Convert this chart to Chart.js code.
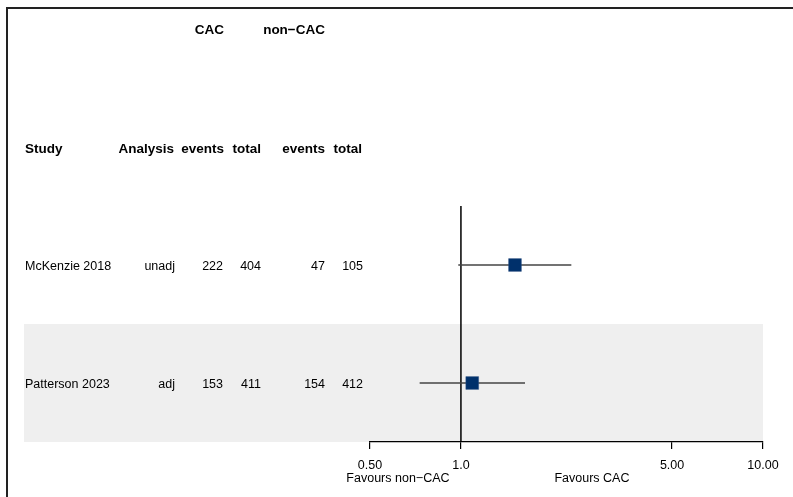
<!DOCTYPE html>
<html lang="en">
<head>
<meta charset="UTF-8">
<title>Forest plot</title>
<script src="https://cdn.jsdelivr.net/npm/chart.js"></script>
<style>
  body { margin: 0; background: #fff; }
  .box { position: relative; width: 793px; height: 497px; }
</style>
</head>
<body>
<div class="box"><canvas id="forest"></canvas></div>
<script>
    const studies = ['McKenzie 2018', 'Patterson 2023'];
    const analysis = ['unadj', 'adj'];
    const cacEvents = [222, 153];
    const cacTotal = [404, 411];
    const nonEvents = [47, 154];
    const nonTotal = [105, 412];
    const ratio = [1.51, 1.09];
    const lower = [0.98, 0.73];
    const upper = [2.32, 1.63];
    const tickVals = [0.5, 1, 5, 10];
    const tickLabels = ['0.50', '1.0', '5.00', '10.00'];

    const FONT = '"Liberation Sans", Arial, Helvetica, sans-serif';

    // row i sits at y = i + 0.5 on a 0..n reversed scale
    const rowY = studies.map((s, i) => i + 0.5);

    const ciSets = studies.map((s, i) => ({
        type: 'line',
        data: [{ x: lower[i], y: rowY[i] }, { x: upper[i], y: rowY[i] }],
        borderColor: '#444',
        borderWidth: 1.5,
        pointRadius: 0,
        order: 3
    }));

    const tablePlugin = {
        id: 'table',
        beforeDraw(chart) {
            const ctx = chart.ctx;
            const y = chart.scales.y;
            const area = chart.chartArea;
            ctx.save();
            ctx.fillStyle = '#efefef';
            // shade every second row
            studies.forEach((s, i) => {
                if (i % 2 === 1) {
                    const top = y.getPixelForValue(i);
                    const bot = y.getPixelForValue(i + 1);
                    ctx.fillRect(24, top, area.right - 24, bot - top);
                }
            });
            ctx.restore();
        },
        afterDraw(chart) {
            const ctx = chart.ctx;
            const y = chart.scales.y;
            const x = chart.scales.x;
            ctx.save();
            ctx.fillStyle = '#000';
            ctx.textBaseline = 'middle';

            ctx.font = 'bold 13.5px ' + FONT;
            ctx.textAlign = 'right';
            ctx.fillText('CAC', 224, 30);
            ctx.fillText('non\u2212CAC', 325, 30);
            ctx.textAlign = 'left';
            ctx.fillText('Study', 25, 149);
            ctx.textAlign = 'right';
            ctx.fillText('Analysis', 174, 149);
            ctx.fillText('events', 224, 149);
            ctx.fillText('total', 261, 149);
            ctx.fillText('events', 325, 149);
            ctx.fillText('total', 362, 149);

            ctx.font = '12.5px ' + FONT;
            studies.forEach((s, i) => {
                const py = y.getPixelForValue(rowY[i]) + 1.5;
                ctx.textAlign = 'left';
                ctx.fillText(s, 25, py);
                ctx.textAlign = 'right';
                ctx.fillText(analysis[i], 175, py);
                ctx.fillText(String(cacEvents[i]), 223, py);
                ctx.fillText(String(cacTotal[i]), 261, py);
                ctx.fillText(String(nonEvents[i]), 325, py);
                ctx.fillText(String(nonTotal[i]), 363, py);
            });

            // favours labels under the axis
            const one = x.getPixelForValue(1);
            ctx.textAlign = 'center';
            ctx.fillText('Favours non\u2212CAC', one - 63, 479);
            ctx.fillText('Favours CAC', one + 131, 479);

            // frame (top and left edge only)
            ctx.strokeStyle = '#222';
            ctx.lineWidth = 2;
            ctx.beginPath();
            ctx.moveTo(7, 497);
            ctx.lineTo(7, 8);
            ctx.lineTo(793, 8);
            ctx.stroke();
            ctx.restore();
        }
    };

    new Chart(document.getElementById('forest'), {
        type: 'scatter',
        data: {
            datasets: [
                {
                    type: 'line',
                    data: [{ x: 1, y: 0 }, { x: 1, y: studies.length }],
                    borderColor: '#000',
                    borderWidth: 1.5,
                    pointRadius: 0,
                    order: 4
                },
                ...ciSets,
                {
                    data: studies.map((s, i) => ({ x: ratio[i], y: rowY[i] })),
                    pointStyle: 'rect',
                    pointRadius: 9,
                    backgroundColor: '#00306b',
                    borderColor: '#2b4f80',
                    borderWidth: 0.5,
                    order: 1
                }
            ]
        },
        options: {
            responsive: true,
            maintainAspectRatio: false,
            animation: false,
            layout: { padding: { left: 370, right: 30, top: 206, bottom: 0 } },
            plugins: {
                legend: { display: false },
                tooltip: { enabled: false }
            },
            scales: {
                x: {
                    type: 'logarithmic',
                    min: 0.5,
                    max: 10,
                    afterBuildTicks: (scale) => {
                        scale.ticks = tickVals.map(v => ({ value: v }));
                    },
                    afterFit: (scale) => {
                        scale.height = 55;
                    },
                    ticks: {
                        autoSkip: false,
                        maxRotation: 0,
                        padding: 9,
                        color: '#000',
                        font: { family: FONT, size: 12.5 },
                        callback: (value, index) => tickLabels[index]
                    },
                    grid: {
                        drawOnChartArea: false,
                        drawTicks: true,
                        tickLength: 7,
                        color: '#000',
                        lineWidth: 1.2
                    },
                    border: { display: true, color: '#000', width: 1.2 }
                },
                y: {
                    type: 'linear',
                    min: 0,
                    max: studies.length,
                    reverse: true,
                    display: false
                }
            }
        },
        plugins: [tablePlugin]
    });
</script>
</body>
</html>
